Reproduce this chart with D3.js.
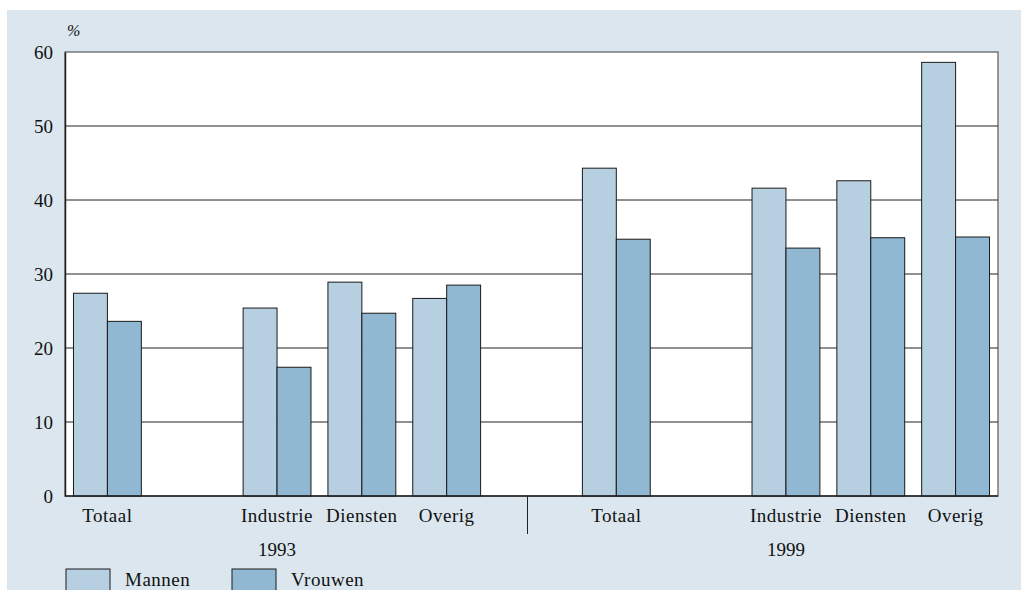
<!DOCTYPE html>
<html>
<head>
<meta charset="utf-8">
<style>
  body { margin: 0; background: #fff; }
  svg text { font-family: "Liberation Serif", serif; fill: #111; }
</style>
</head>
<body>
<svg width="1021" height="590"></svg>
<script src="https://d3js.org/d3.v7.min.js"></script>
<script>
var years = ["1993", "1999"];
var sectors = ["Totaal", "Industrie", "Diensten", "Overig"];
var series = ["Mannen", "Vrouwen"];
var mannen = [27.4, 25.4, 28.9, 26.7, 44.3, 41.6, 42.6, 58.6];
var vrouwen = [23.6, 17.4, 24.7, 28.5, 34.7, 33.5, 34.9, 35.0];
var yTicks = [0, 10, 20, 30, 40, 50, 60];

var svg = d3.select("svg"),
    width = +svg.attr("width"),
    height = +svg.attr("height");

var margin = {left: 65, top: 52, right: 23, bottom: 94};
var x0 = margin.left, x1 = width - margin.right,
    y0 = height - margin.bottom, y1 = margin.top;

// panel background
svg.append("rect")
    .attr("x", 7).attr("y", 10)
    .attr("width", width - 7).attr("height", height - 10)
    .attr("fill", "#dbe6ee");

// build rows and slot domain (gap after Totaal, gap between years)
var rows = [], slots = [];
years.forEach(function(yr, yi) {
  if (yi > 0) slots.push("gap-" + yr);
  sectors.forEach(function(s, si) {
    var key = yr + "-" + s;
    slots.push(key);
    if (si === 0) slots.push("gap-t-" + yr);
    var k = yi * sectors.length + si;
    rows.push({key: key, year: yr, sector: s, values: [mannen[k], vrouwen[k]]});
  });
});

var x = d3.scaleBand().domain(slots).range([x0, x1])
    .paddingInner(0.2).paddingOuter(0.1);
var xs = d3.scaleBand().domain(series).range([0, x.bandwidth()]);
var y = d3.scaleLinear().domain([0, 60]).range([y0, y1]);
var color = d3.scaleOrdinal().domain(series).range(["#b6d0e2", "#90b8d2"]);

// plot area
svg.append("rect")
    .attr("x", x0).attr("y", y1)
    .attr("width", x1 - x0).attr("height", y0 - y1)
    .attr("fill", "#fff")
    .attr("stroke", "#777").attr("stroke-width", 1.5);

// gridlines
svg.append("g").selectAll("line")
  .data(yTicks.filter(function(d) { return d > 0 && d < 60; }))
  .enter().append("line")
    .attr("x1", x0).attr("x2", x1)
    .attr("y1", function(d) { return y(d); })
    .attr("y2", function(d) { return y(d); })
    .attr("stroke", "#222").attr("stroke-width", 1);

// y axis
var yAxis = svg.append("g")
    .attr("transform", "translate(" + x0 + ",0)")
    .call(d3.axisLeft(y).tickValues(yTicks).tickSize(0).tickPadding(12));
yAxis.select(".domain").attr("stroke", "#222").attr("stroke-width", 1.5);
yAxis.selectAll("text")
    .style("font-family", "Liberation Serif, serif")
    .style("font-size", "19px").attr("fill", "#111");

svg.append("text")
    .attr("x", 67).attr("y", 36)
    .style("font-size", "16px").style("font-style", "italic")
    .text("%");

// bars
var group = svg.append("g").selectAll("g")
  .data(rows)
  .enter().append("g")
    .attr("transform", function(d) { return "translate(" + x(d.key) + ",0)"; });

group.selectAll("rect")
  .data(function(d) { return d.values.map(function(v, i) { return {s: series[i], v: v}; }); })
  .enter().append("rect")
    .attr("x", function(d) { return xs(d.s); })
    .attr("y", function(d) { return y(d.v); })
    .attr("width", xs.bandwidth())
    .attr("height", function(d) { return y(0) - y(d.v); })
    .attr("fill", function(d) { return color(d.s); })
    .attr("stroke", "#1a1a1a").attr("stroke-width", 1);

// x axis baseline
svg.append("line")
    .attr("x1", x0).attr("x2", x1).attr("y1", y0).attr("y2", y0)
    .attr("stroke", "#222").attr("stroke-width", 1.5);

// category labels
svg.append("g").selectAll("text")
  .data(rows)
  .enter().append("text")
    .attr("x", function(d) { return x(d.key) + x.bandwidth() / 2; })
    .attr("y", 522)
    .attr("text-anchor", "middle")
    .style("font-size", "19px").style("letter-spacing", "0.5px")
    .text(function(d) { return d.sector; });

// year labels
svg.append("g").selectAll("text")
  .data(years)
  .enter().append("text")
    .attr("x", function(d) { return x(d + "-Industrie") + x.bandwidth() / 2; })
    .attr("y", 556)
    .attr("text-anchor", "middle")
    .style("font-size", "19px")
    .text(function(d) { return d; });

// divider between years
var gx = x("gap-" + years[1]) + x.bandwidth() / 2 - 4;
svg.append("line")
    .attr("x1", gx).attr("x2", gx).attr("y1", y0).attr("y2", 534)
    .attr("stroke", "#222").attr("stroke-width", 1);

// legend
var legend = svg.append("g").selectAll("g")
  .data(series)
  .enter().append("g")
    .attr("transform", function(d, i) { return "translate(" + (66 + i * 166) + ",569)"; });

legend.append("rect")
    .attr("width", 44).attr("height", 30)
    .attr("fill", function(d) { return color(d); })
    .attr("stroke", "#1a1a1a").attr("stroke-width", 1);

legend.append("text")
    .attr("x", 59).attr("y", 17)
    .style("font-size", "19px").style("letter-spacing", "0.5px")
    .text(function(d) { return d; });
</script>
</body>
</html>
